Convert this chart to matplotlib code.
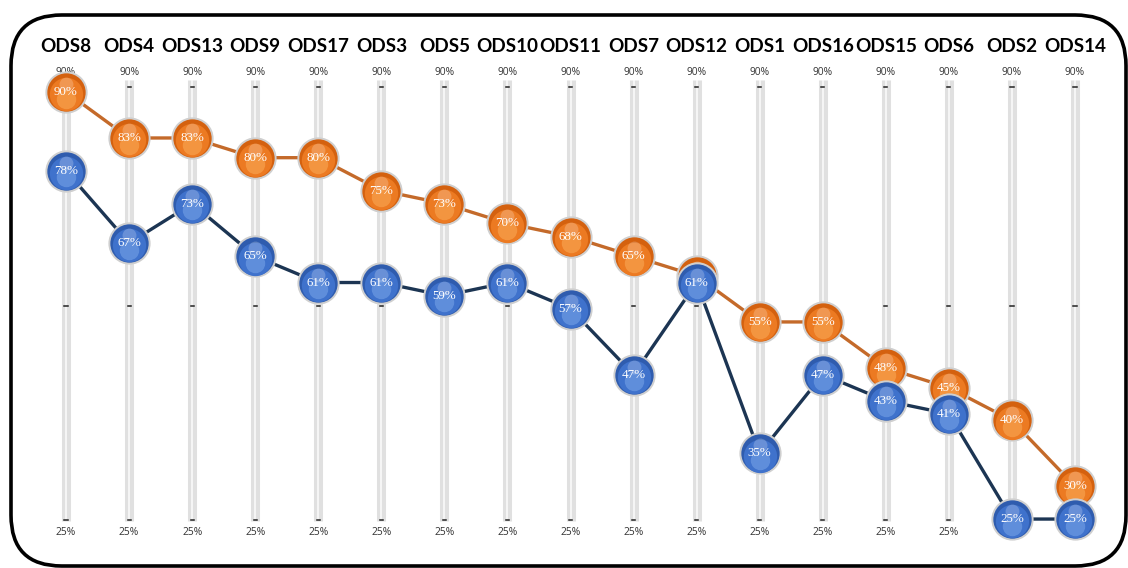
import matplotlib
matplotlib.use("Agg")
import matplotlib.pyplot as plt
from matplotlib.patches import FancyBboxPatch

categories = ["ODS8", "ODS4", "ODS13", "ODS9", "ODS17", "ODS3", "ODS5", "ODS10",
              "ODS11", "ODS7", "ODS12", "ODS1", "ODS16", "ODS15", "ODS6", "ODS2", "ODS14"]
series_orange = [90, 83, 83, 80, 80, 75, 73, 70, 68, 65, 62, 55, 55, 48, 45, 40, 30]
series_blue = [78, 67, 73, 65, 61, 61, 59, 61, 57, 47, 61, 35, 47, 43, 41, 25, 25]
axis_max = 90
axis_min = 25

W, H = 1128, 568
fig = plt.figure(figsize=(W / 100, H / 100), dpi=100)
fig.patch.set_facecolor("white")
ax = fig.add_axes([0, 0, 1, 1])
ax.set_xlim(-1.047, 16.84)
ax.set_ylim(17.55, 104.0)
ax.axis("off")

# rounded frame around the whole chart
frame = FancyBboxPatch((11 / W, 2 / H), (W - 13) / W, (H - 17) / H,
                       boxstyle="round,pad=0,rounding_size=0.045",
                       transform=fig.transFigure, fill=False,
                       edgecolor="black", linewidth=2.6, zorder=0,
                       mutation_aspect=W / H)
fig.patches.append(frame)

x = list(range(len(categories)))
mid = (axis_max + axis_min) / 2

# vertical axis rails with tick dashes and range labels
for xi, name in zip(x, categories):
    ax.plot([xi, xi], [axis_min - 0.3, axis_max + 1.8], color="#E0E0E0",
            linewidth=6.5, solid_capstyle="butt", zorder=1)
    ax.plot([xi, xi], [axis_min - 0.3, axis_max + 1.8], color="#FAFAFA",
            linewidth=1.2, solid_capstyle="butt", zorder=1.1)
    for yv in (axis_max + 0.7, mid, axis_min - 0.2):
        ax.plot([xi - 0.025, xi + 0.025], [yv, yv], color="#222222",
                linewidth=1.1, zorder=1.2)
    ax.text(xi, axis_max + 2.9, f"{axis_max}%", ha="center", va="center",
            fontsize=7.4, color="#333333", family="Open Sans")
    ax.text(xi, axis_min - 2.0, f"{axis_min}%", ha="center", va="center",
            fontsize=7.4, color="#333333", family="Open Sans")
    ax.text(xi, 96.9, name, ha="center", va="center", fontsize=13.6,
            fontweight="bold", color="black", family="Lato")


def draw_series(values, line_color, base, dark, light, z):
    ax.plot(x, values, color=line_color, linewidth=2.4, zorder=z,
            solid_joinstyle="round")
    # ball markers with a soft shaded look
    ax.scatter(x, values, s=29 ** 2, color=dark, edgecolors="#CFCFCF",
               linewidths=1.4, zorder=z + 0.1)
    ax.scatter(x, [v - 0.35 for v in values], s=24 ** 2, color=base,
               linewidths=0, zorder=z + 0.2)
    ax.scatter(x, [v - 1.0 for v in values], s=14 ** 2, color=light,
               linewidths=0, alpha=0.7, zorder=z + 0.3)
    ax.scatter(x, [v + 1.2 for v in values], s=10 ** 2, color="white",
               alpha=0.22, linewidths=0, zorder=z + 0.35)
    for xi, v in zip(x, values):
        ax.text(xi, v, f"{v}%", ha="center", va="center", fontsize=9.4,
                color="white", family="Liberation Serif", zorder=z + 0.5)


draw_series(series_orange, "#C46A2A", "#EC7A22", "#D4610F", "#F7A14E", 3)
draw_series(series_blue, "#1C3553", "#3F72CC", "#2F5CAE", "#6E9BE2", 5)

fig.savefig("out.png", dpi=100, facecolor="white")
